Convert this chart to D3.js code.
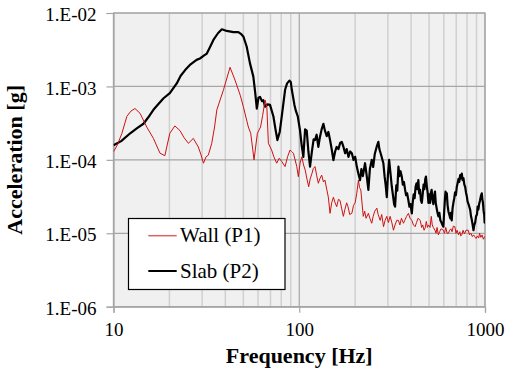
<!DOCTYPE html>
<html>
<head>
<meta charset="utf-8">
<script src="https://cdnjs.cloudflare.com/ajax/libs/d3/7.8.5/d3.min.js"></script>
</head>
<body style="margin:0">
<svg id="chart" width="505" height="371" font-family="Liberation Serif"></svg>
<script>
// ---- data ----
const seriesNames = ["Wall (P1)", "Slab (P2)"];
const seriesColors = ["#cc1111", "#000000"];

const wallFreq = [10,10.5,11.1,11.8,12.4,13.05,13.9,15.1,16.4,17.8,18.9,20.1,21.4,22.8,24,25.3,26.9,28.6,29.5,30.5,31.5,32.4,33.8,35,36,39.1,42.4,45.1,48.1,50,53.2,54.8,57.1,59.5,61.9,63.5,65.5,66.9,68.2,71,73,75.6,78,80.5,83.9,86.5,89.2,91,93,97,98.9,101,103.3,105.5,107.6,110,112.4,114.5,117,119,121.6,124,126.7,129,132,135,137.5,140.5,143.4,146.5,149.5,152.7,156,159.1,162.5,165.8,169,172.8,176,180,183,187,191.9,196,199.9,204,208.3,211,214.5,218,221.1,225,229,235.6,240,245.6,250,255,261.7,266,272.7,278,284.2,290,296,302,308.5,315,321.5,328,335,342,348,355,364,370,378,387,395,403.6,412,420.6,428,436,448,456,462,470,477,483,490,496,506,514,520,527,538,545,552,561,570,580,597,605,615,625,636,645,655,665,675,688,698,708,720,732,740,750,762,775,790,813,825,840,855,868,880,895,910,925,935,950,965,980,990,1000];
const wallAcc = [1.29e-4,1.6e-4,2.3e-4,3.9e-4,4.6e-4,5.0e-4,4.3e-4,2.8e-4,1.96e-4,1.23e-4,1.14e-4,2.3e-4,2.9e-4,2.5e-4,2.0e-4,1.68e-4,1.96e-4,1.5e-4,1.2e-4,9e-5,1.1e-4,1.16e-4,1.68e-4,2.8e-4,4.8e-4,9e-4,1.82e-3,1.22e-3,7.6e-4,5.3e-4,2.8e-4,2.3e-4,1e-4,2.3e-4,2.8e-4,4.0e-4,6.5e-4,5.3e-4,1.68e-4,1.36e-4,1.1e-4,9e-5,1.05e-4,9.5e-5,8.1e-5,1.1e-4,1.36e-4,1.3e-4,1.23e-4,8.1e-5,5.9e-5,9e-5,1.1e-4,8.5e-5,7.3e-5,5.5e-5,4.3e-5,5.5e-5,6.5e-5,7.6e-5,8.1e-5,6.2e-5,4.8e-5,5.5e-5,6.2e-5,5.0e-5,5.3e-5,4.0e-5,3.1e-5,1.87e-5,2.6e-5,3.1e-5,2.6e-5,2.3e-5,2.9e-5,2.8e-5,2.2e-5,1.7e-5,2.1e-5,2.6e-5,2.3e-5,1.8e-5,1.87e-5,2.4e-5,2.6e-5,3.5e-5,5.3e-5,4.2e-5,3.9e-5,2.5e-5,1.7e-5,2.0e-5,1.6e-5,1.87e-5,1.6e-5,1.37e-5,1.7e-5,2.0e-5,2.2e-5,1.8e-5,1.5e-5,1.8e-5,1.23e-5,1.5e-5,1.7e-5,1.4e-5,1.7e-5,1.4e-5,1.1e-5,1.3e-5,1.5e-5,1.5e-5,1.3e-5,1.6e-5,1.37e-5,1.5e-5,1.7e-5,1.87e-5,1.6e-5,1.5e-5,1.3e-5,1.23e-5,1.4e-5,1.6e-5,1.5e-5,1.2e-5,1.3e-5,1.1e-5,1.2e-5,1.45e-5,1.2e-5,1.3e-5,1.2e-5,1.7e-5,1.3e-5,1.2e-5,1.1e-5,1.0e-5,1.2e-5,9.5e-6,1.05e-5,1.15e-5,1.1e-5,1.0e-5,1.2e-5,1.0e-5,1.0e-5,1.1e-5,1.15e-5,1.05e-5,1.25e-5,1.23e-5,1.0e-5,1.1e-5,9.5e-6,1.05e-5,9.2e-6,9.5e-6,1.1e-5,9.8e-6,1.1e-5,1.1e-5,9.5e-6,1.0e-5,9.0e-6,9.5e-6,9e-6,8.5e-6,9.2e-6,8.6e-6,1e-5,8.8e-6,9.5e-6,8.3e-6,8.8e-6,9e-6];

const slabFreq = [10,11,12.3,13.4,14.5,15.4,16.4,17.5,18.6,20.1,21.9,23,24.3,26,28,29.2,30.5,31.8,33,34.5,36.5,38.3,40.7,44.2,47,48.5,50,52.1,54.3,56.6,58,59.1,60.3,61.5,63,64.1,65.5,67.5,69.6,72.6,74.5,76.3,78.5,80.5,83.9,86,88.5,90,91.2,94.2,96,98.2,101,103,105.2,107.5,109.7,112,114.3,117,119.5,121.6,124,126.7,129,132,134.9,137.5,140.6,143.5,146.5,149.5,152.7,156,159,162.5,166,169.4,173,176.6,180,184,188,191.9,196,200,204.1,208,212.5,216,220,226,230,235.6,240,245.6,250,255,261,266.6,270,275,283.7,288,292,296,300,304.7,310,315,320,324,328,333,337,342,346,351,356.6,361,366,371.5,376,381,387,392,397,403.6,408,413,418,423,428,432,437.7,442,447,452,457,462,467,472,477,481,486,491,496,501,506,511,516,521,527,532,538,543,549,555,561,568,575,583,590,597,603,608,613,618,623,629,635,642,650,656,662,669,676,683,690,697,705,712,720,727,735,742,750,758,766,774,782,790,798,806,815,823,832,841,850,858,867,876,885,895,905,913,921,930,940,950,961,968,975,983,990,995,1000];
const slabAcc = [1.58e-4,1.8e-4,2.3e-4,2.7e-4,3.1e-4,3.8e-4,4.8e-4,5.8e-4,6.9e-4,8.1e-4,1.1e-3,1.4e-3,1.67e-3,2.0e-3,2.3e-3,2.4e-3,2.6e-3,2.8e-3,3.4e-3,4.3e-3,5.3e-3,6.0e-3,5.7e-3,5.5e-3,5.5e-3,5.2e-3,4.8e-3,3.5e-3,2.06e-3,1.36e-3,8e-4,5.0e-4,7.0e-4,7.2e-4,6.3e-4,6.5e-4,5.3e-4,5.7e-4,5.6e-4,3.9e-4,2.6e-4,1.86e-4,2.4e-4,3.9e-4,9e-4,1.1e-3,1.2e-3,1.15e-3,9e-4,5.6e-4,4.6e-4,3.9e-4,2.5e-4,1.6e-4,1.1e-4,2.6e-4,2.5e-4,1.3e-4,8.1e-5,1.3e-4,1.9e-4,1.86e-4,2.2e-4,1.5e-4,2.0e-4,2.6e-4,3.1e-4,2.5e-4,2.1e-4,2.4e-4,1.86e-4,1.4e-4,9.9e-5,1.3e-4,1.5e-4,1.4e-4,1.7e-4,1.76e-4,1.5e-4,1.23e-4,1.4e-4,1.1e-4,1.3e-4,1.23e-4,1.0e-4,1.1e-4,8.1e-5,6.5e-5,5.3e-5,7.5e-5,6.0e-5,9e-5,6.5e-5,3.9e-5,7.5e-5,1e-4,8.0e-5,1.2e-4,1.5e-4,1.76e-4,1.4e-4,1.2e-4,9e-5,6e-5,4.5e-5,3.1e-5,6e-5,1e-4,6.5e-5,4.3e-5,3.2e-5,2.5e-5,2.3e-5,4.5e-5,3.8e-5,8.1e-5,6.0e-5,7.0e-5,5.9e-5,4.6e-5,5.0e-5,3.9e-5,3.3e-5,3.5e-5,2.8e-5,2.3e-5,2.5e-5,1.87e-5,2.6e-5,3.4e-5,3.0e-5,4.3e-5,4.8e-5,4.0e-5,5.3e-5,3.5e-5,3.9e-5,2.8e-5,2.6e-5,3.4e-5,4.6e-5,4.0e-5,5.5e-5,5.9e-5,4.4e-5,3.6e-5,2.6e-5,3.4e-5,2.6e-5,3.5e-5,3.9e-5,3.0e-5,2.5e-5,3.2e-5,3.7e-5,2.6e-5,2.2e-5,1.9e-5,1.7e-5,1.9e-5,1.5e-5,1.4e-5,1.3e-5,1.23e-5,2.0e-5,2.8e-5,3.7e-5,3.1e-5,3.5e-5,2.4e-5,2.0e-5,1.8e-5,1.6e-5,1.9e-5,1.5e-5,2.2e-5,2.6e-5,3.0e-5,3.6e-5,3.3e-5,4.3e-5,4.8e-5,5.5e-5,5.0e-5,6.2e-5,5.6e-5,6.5e-5,5.3e-5,5.6e-5,4.6e-5,4.3e-5,3.6e-5,3.2e-5,2.7e-5,2.5e-5,2.3e-5,2.1e-5,1.7e-5,1.5e-5,1.3e-5,1.1e-5,1.3e-5,1.4e-5,1.7e-5,1.8e-5,2.3e-5,2.1e-5,2.5e-5,2.8e-5,3.2e-5,3.5e-5,2.9e-5,2.6e-5,2.0e-5,1.8e-5,1.4e-5,1.5e-5];

const xTickValues = [10, 100, 1000];
const xTickLabels = ["10", "100", "1000"];
const xMinorValues = [20,30,40,50,60,70,80,90,200,300,400,500,600,700,800,900];
const yTickValues = [1e-6, 1e-5, 1e-4, 1e-3, 1e-2];
const yTickLabels = ["1.E-06", "1.E-05", "1.E-04", "1.E-03", "1.E-02"];
const xTitle = "Frequency [Hz]";
const yTitle = "Acceleration [g]";

// ---- layout ----
const L = 113.5, R = 485, T = 13, B = 306.7;
const FONT = '"Liberation Serif"';
const FONT2 = '"Liberation Serif", "Times New Roman", Tinos';
const svg = d3.select("#chart");

const x = d3.scaleLog().domain([10, 1000]).range([L, R]);
const y = d3.scaleLog().domain([1e-6, 1e-2]).range([B, T]);

svg.append("rect").attr("x", L).attr("y", T).attr("width", R - L).attr("height", B - T)
  .attr("fill", "#f0f0f0");

svg.append("g").selectAll("line").data(xMinorValues).join("line")
  .attr("x1", d => x(d)).attr("x2", d => x(d)).attr("y1", T).attr("y2", B)
  .attr("stroke", "#d0d0d0").attr("stroke-width", 1.5);

svg.append("g").selectAll("line").data(xTickValues).join("line")
  .attr("x1", d => x(d)).attr("x2", d => x(d)).attr("y1", T).attr("y2", B)
  .attr("stroke", "#a6a6a6").attr("stroke-width", 1.2);

svg.append("g").selectAll("line").data(yTickValues).join("line")
  .attr("x1", L).attr("x2", R).attr("y1", d => y(d)).attr("y2", d => y(d))
  .attr("stroke", "#a6a6a6").attr("stroke-width", 1.2);

svg.append("rect").attr("x", L).attr("y", T).attr("width", R - L).attr("height", B - T)
  .attr("fill", "none").attr("stroke", "#a6a6a6").attr("stroke-width", 1.2);

const yAxis = d3.axisLeft(y).tickValues(yTickValues)
  .tickFormat((d, i) => yTickLabels[i]).tickSize(7).tickPadding(10);
const gy = svg.append("g").attr("transform", `translate(${L},0)`).call(yAxis)
  .attr("font-family", "Liberation Serif").attr("font-size", 19);
gy.select(".domain").attr("stroke", "#a6a6a6").attr("stroke-width", 1.2);
gy.selectAll(".tick line").attr("stroke", "#a6a6a6").attr("stroke-width", 1.2);
gy.selectAll(".tick text").attr("fill", "#000").attr("dy", "0.4em")
  .style("font-family", FONT).style("font-size", "19px");

const xAxis = d3.axisBottom(x).tickValues(xTickValues)
  .tickFormat((d, i) => xTickLabels[i]).tickSize(6).tickPadding(10);
const gx = svg.append("g").attr("transform", `translate(0,${B})`).call(xAxis)
  .attr("font-family", "Liberation Serif").attr("font-size", 19);
gx.select(".domain").attr("stroke", "#a6a6a6").attr("stroke-width", 1.2);
gx.selectAll(".tick line").attr("stroke", "#a6a6a6").attr("stroke-width", 1.2);
gx.selectAll(".tick text").attr("fill", "#000")
  .style("font-family", FONT).style("font-size", "19px");

svg.append("clipPath").attr("id", "clip").append("rect")
  .attr("x", L).attr("y", T).attr("width", R - L).attr("height", B - T);

const line = d3.line().x(d => x(d[0])).y(d => y(d[1]));
const wallData = wallFreq.map((f, i) => [f, wallAcc[i]]);
const slabData = slabFreq.map((f, i) => [f, slabAcc[i]]);

const gLines = svg.append("g").attr("clip-path", "url(#clip)");
gLines.append("path").datum(slabData).attr("d", line)
  .attr("fill", "none").attr("stroke", seriesColors[1]).attr("stroke-width", 2.2)
  .attr("stroke-linejoin", "round");
gLines.append("path").datum(wallData).attr("d", line)
  .attr("fill", "none").attr("stroke", seriesColors[0]).attr("stroke-width", 1)
  .attr("stroke-linejoin", "round");

const lg = svg.append("g").attr("font-family", "Liberation Serif");
lg.append("rect").attr("x", 128.5).attr("y", 218.5).attr("width", 156.5).attr("height", 71)
  .attr("fill", "#ffffff").attr("stroke", "#000").attr("stroke-width", 1.2);
const legendRows = [235.7, 271];
seriesNames.forEach((name, i) => {
  lg.append("line").attr("x1", 148.3).attr("x2", 176.7)
    .attr("y1", legendRows[i]).attr("y2", legendRows[i])
    .attr("stroke", i === 0 ? "#e06060" : "#000").attr("stroke-width", i === 0 ? 1.5 : 2);
  lg.append("text").attr("x", 180).attr("y", legendRows[i] + 6.5)
    .style("font-family", FONT).style("font-size", "21px").text(name);
});

svg.append("text").attr("x", (L + R) / 2).attr("y", 363)
  .attr("text-anchor", "middle").style("font-weight", "bold")
  .style("font-family", FONT).style("font-size", "22px")
  .text(xTitle);
svg.append("text").attr("transform", `translate(22,${(T + B) / 2}) rotate(-90)`)
  .attr("text-anchor", "middle").style("font-weight", "bold")
  .style("font-family", FONT).style("font-size", "22px")
  .text(yTitle);

// once the local font files are ready, switch to an equivalent family list
// so the browser recomputes the text layout with the loaded font
function refreshFonts() {
  svg.selectAll("text").style("font-family", FONT2);
  void document.body.offsetHeight;
}
if (document.fonts && document.fonts.load) {
  Promise.all([
    document.fonts.load('19px "Liberation Serif"'),
    document.fonts.load('21px "Liberation Serif"'),
    document.fonts.load('bold 22px "Liberation Serif"')
  ]).then(refreshFonts).catch(() => {});
}
requestAnimationFrame(refreshFonts);
</script>
</body>
</html>
